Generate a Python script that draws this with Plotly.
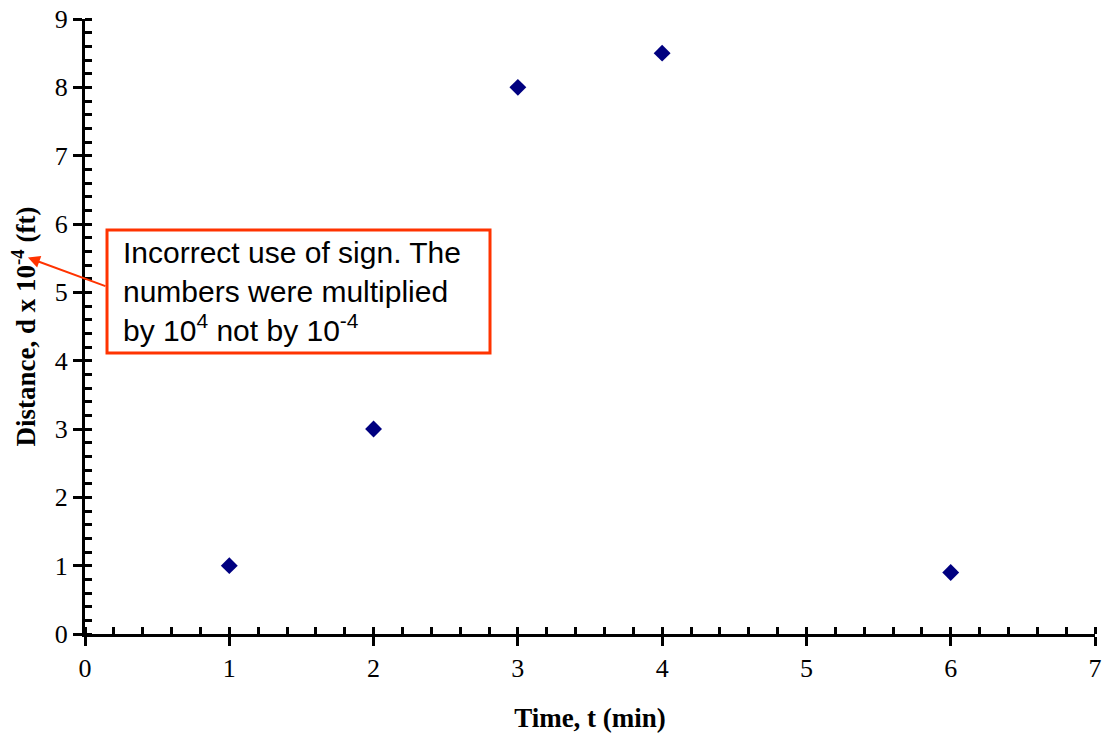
import plotly.graph_objects as go

time_min = [1, 2, 3, 4, 6]
distance = [1, 3, 8, 8.5, 0.9]

x_range = [0, 7]
y_range = [0, 9]

serif = "Liberation Serif, Times New Roman, serif"
sans = "Liberation Sans, Arial, sans-serif"

fig = go.Figure()
fig.add_trace(go.Scatter(
    x=time_min, y=distance, mode="markers",
    marker=dict(symbol="diamond", size=13, color="#000080"),
    showlegend=False, cliponaxis=False,
))

axis_common = dict(showgrid=False, zeroline=False, showline=True, linecolor="black",
                   linewidth=3, ticks="outside", ticklen=9, tickwidth=3, tickcolor="black",
                   dtick=1, automargin=False,
                   tickfont=dict(family=serif, size=26, color="black"))

fig.update_layout(
    width=1107, height=736,
    margin=dict(l=85, r=12, t=19, b=102),
    paper_bgcolor="white", plot_bgcolor="white",
    xaxis=dict(range=x_range, **axis_common,
               minor=dict(dtick=0.2, ticks="inside", ticklen=7, tickwidth=2.5, tickcolor="black"),
               title=dict(text="<b>Time, t (min)</b>", font=dict(family=serif, size=27, color="black"),
                          standoff=26)),
    yaxis=dict(range=y_range, **axis_common,
               minor=dict(dtick=0.2, ticks="inside", ticklen=7, tickwidth=2.5, tickcolor="black"),
               title=dict(text="<b>Distance, d x 10<sup>-4</sup> (ft)</b>",
                          font=dict(family=serif, size=27, color="black"), standoff=12)),
    xaxis2=dict(range=x_range, overlaying="x", anchor="y2", showgrid=False, zeroline=False,
                showline=False, ticks="inside", ticklen=7, tickwidth=3, tickcolor="black",
                dtick=1, showticklabels=False, side="bottom", automargin=False),
    yaxis2=dict(range=y_range, overlaying="y", anchor="x2", showgrid=False, zeroline=False,
                showline=False, ticks="inside", ticklen=7, tickwidth=3, tickcolor="black",
                dtick=1, showticklabels=False, side="left", automargin=False),
)

# callout box
fig.add_shape(type="rect", xref="paper", yref="paper",
              x0=0.0218, x1=0.401, y0=0.4569, y1=0.6569,
              line=dict(color="#FF3300", width=3), fillcolor="white", layer="above")
fig.add_annotation(
    xref="paper", yref="paper", x=0.0356, y=0.5577, xanchor="left", yanchor="middle",
    text="Incorrect use of sign. The<br>numbers were multiplied<br>by 10<sup>4</sup> not by 10<sup>-4</sup>",
    showarrow=False, align="left", font=dict(family=sans, size=30, color="black"),
)
# arrow
fig.add_annotation(
    xref="paper", yref="paper", x=-0.0565, y=0.612, text="",
    showarrow=True, ax=79, ay=29, arrowhead=2, arrowsize=1.2, arrowwidth=2,
    arrowcolor="#FF3300",
)

fig.write_html("out.html", post_script="document.body.style.margin='0px';",
               config=dict(displayModeBar=False))
